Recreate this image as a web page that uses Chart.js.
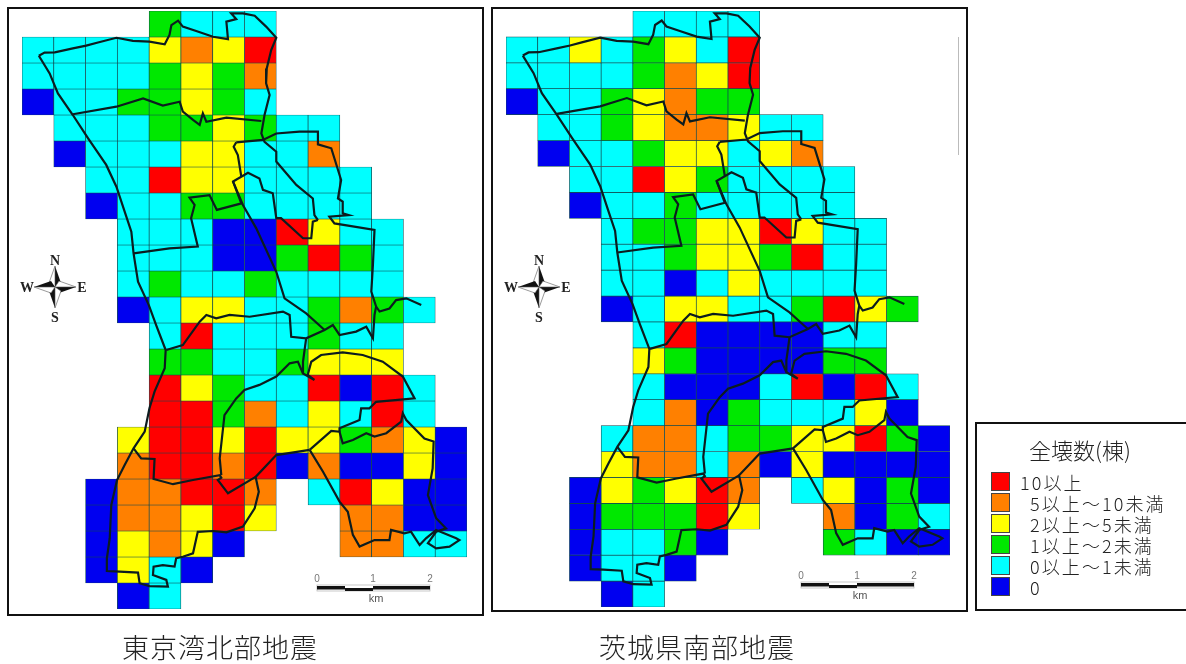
<!DOCTYPE html>
<html lang="ja">
<head>
<meta charset="utf-8">
<title>全壊数(棟)</title>
<script src="https://cdn.jsdelivr.net/npm/chart.js@4/dist/chart.umd.min.js"></script>
<style>
    html, body { margin: 0; padding: 0; background: #fff; }
    body { width: 1186px; height: 664px; position: relative; overflow: hidden; font-family: "Noto Sans CJK JP", sans-serif; font-weight: 300; color: #222; }
    .frame { position: absolute; border: 2px solid #111; box-sizing: border-box; }
    canvas { position: absolute; }
    #overlay { position: absolute; left: 0; top: 0; }
    .title { position: absolute; top: 629px; font-size: 27px; letter-spacing: 1px; white-space: nowrap; line-height: 36px; }
    #legend { position: absolute; left: 975px; top: 422px; width: 230px; height: 189px; border: 2px solid #111; box-sizing: border-box; background: #fff; }
    #legend-title { position: absolute; left: 52px; top: 10px; font-size: 22px; white-space: nowrap; line-height: 30px; }
    .swatch { position: absolute; left: 14px; width: 19px; height: 19px; box-sizing: border-box; border: 1px solid #444; }
    .entry { position: absolute; font-size: 18px; letter-spacing: 2.1px; line-height: 22px; white-space: nowrap; }
    #stray { position: absolute; left: 958px; top: 37px; width: 1px; height: 118px; background: #bbb; }
</style>
</head>
<body>
<div class="frame" style="left:7px;top:7px;width:477px;height:609px"></div>
<div class="frame" style="left:491px;top:7px;width:477px;height:605px"></div>
<div id="stray"></div>
<canvas id="map-tokyo" style="left:22px;top:11px;width:445px;height:598px"></canvas>
<canvas id="map-ibaraki" style="left:506px;top:11px;width:444px;height:596px"></canvas>
<svg id="overlay" width="1186" height="664" xmlns="http://www.w3.org/2000/svg"></svg>
<div class="title" style="left:122px">東京湾北部地震</div>
<div class="title" style="left:599px">茨城県南部地震</div>
<div id="legend"><div id="legend-title">全壊数(棟)</div></div>

<script>
const _ = null;

// damage classes, same order as the legend from the bottom up
const classLabels = ['0', '0以上～1未満', '1以上～2未満', '2以上～5未満', '5以上～10未満', '10以上'];
const classColors = ['#0000f0', '#00ffff', '#00e800', '#ffff00', '#ff8000', '#ff0000'];

// class of each 500m mesh, row by row from the north
const tokyoBayGrid = [
    [_, _, _, _, 2, 1, 1, 1],
    [1, 1, 1, 1, 3, 4, 3, 5],
    [1, 1, 1, 1, 2, 3, 2, 4],
    [0, 1, 1, 2, 2, 3, 2, 1],
    [_, 1, 1, 1, 2, 2, 3, 2, 1, 1],
    [_, 0, 1, 1, 1, 3, 3, 1, 1, 4],
    [_, _, 1, 1, 5, 3, 3, 1, 1, 1, 1],
    [_, _, 0, 1, 1, 2, 2, 1, 1, 1, 1],
    [_, _, _, 1, 1, 1, 0, 0, 5, 3, 1, 1],
    [_, _, _, 1, 1, 1, 0, 0, 2, 5, 2, 1],
    [_, _, _, 1, 2, 1, 1, 2, 1, 1, 1, 1],
    [_, _, _, 0, 1, 3, 3, 1, 1, 2, 4, 2, 1],
    [_, _, _, _, 1, 5, 1, 1, 1, 2, 1, 1],
    [_, _, _, _, 2, 2, 1, 1, 2, 3, 3, 3],
    [_, _, _, _, 5, 3, 2, 1, 1, 5, 0, 5, 1],
    [_, _, _, _, 5, 5, 2, 4, 1, 3, 1, 5, 1],
    [_, _, _, 3, 5, 5, 3, 5, 3, 3, 2, 4, 3, 0],
    [_, _, _, 4, 5, 5, 4, 5, 0, 4, 0, 0, 3, 0],
    [_, _, 0, 4, 4, 5, 5, 4, _, 1, 5, 3, 0, 0],
    [_, _, 0, 4, 4, 3, 5, 3, _, _, 4, 4, 0, 0],
    [_, _, 0, 3, 4, 3, 0, _, _, _, 4, 4, 1, 1],
    [_, _, 0, 3, 1, 0],
    [_, _, _, 0, 1]
];

const ibarakiGrid = [
    [_, _, _, _, 1, 1, 1, 1],
    [1, 1, 3, 1, 2, 3, 1, 5],
    [1, 1, 1, 1, 2, 4, 3, 5],
    [0, 1, 1, 2, 3, 4, 2, 2],
    [_, 1, 1, 2, 3, 4, 4, 3, 1, 1],
    [_, 0, 1, 1, 2, 3, 3, 1, 3, 4],
    [_, _, 1, 1, 5, 3, 2, 1, 1, 1, 1],
    [_, _, 0, 1, 1, 2, 1, 1, 1, 1, 1],
    [_, _, _, 1, 2, 2, 3, 3, 5, 3, 1, 1],
    [_, _, _, 1, 1, 2, 3, 3, 2, 5, 1, 1],
    [_, _, _, 1, 1, 0, 1, 3, 1, 1, 1, 1],
    [_, _, _, 0, 1, 3, 3, 1, 1, 2, 5, 3, 2],
    [_, _, _, _, 1, 5, 0, 0, 0, 0, 1, 1],
    [_, _, _, _, 3, 2, 0, 0, 0, 0, 2, 2],
    [_, _, _, _, 1, 0, 0, 0, 1, 5, 0, 5, 1],
    [_, _, _, _, 1, 4, 0, 2, 1, 1, 1, 3, 0],
    [_, _, _, 1, 4, 4, 1, 2, 2, 3, 3, 5, 2, 0],
    [_, _, _, 3, 4, 4, 1, 4, 0, 3, 0, 0, 0, 0],
    [_, _, 0, 3, 2, 3, 5, 4, _, 1, 3, 0, 2, 0],
    [_, _, 0, 2, 2, 2, 5, 3, _, _, 4, 0, 2, 1],
    [_, _, 0, 1, 1, 2, 0, _, _, _, 2, 1, 0, 0],
    [_, _, 0, 1, 1, 0],
    [_, _, _, 0, 1]
];

// ward boundaries in mesh units (column, row)
const northEastLine = [[.53,1.72],[.71,1.6],[1.03,1.59],[1.6,1.44],[2.02,1.33],[2.39,1.21],[2.97,1.03],[3.49,1.15],[4.01,1.18],[4.49,1.28],[4.64,.92],[4.7,.54],[4.91,.37],[5.06,.6],[5.48,.77],[6.01,.99],[6.48,1.08],[6.43,.41],[6.74,.31],[6.58,.09],[6.95,.09],[7.32,.18],[7.68,.6],[8,1.03],[7.84,1.5],[7.7,2.21],[7.68,2.78],[7.79,3.23],[7.63,4],[7.53,4.71],[7.63,5.03],[8,5.41],[8,5.79],[8.63,6.69],[9.15,7.21],[9.2,7.85],[9.31,8.04]];
const eastLine = [[6.74,5.05],[7.58,4.96],[8,4.71],[8.73,4.64],[9.31,4.64],[9.31,5.13],[9.73,5.28],[10.04,6.5],[9.94,7.21],[10.09,7.33],[10.09,7.78],[10.28,7.85],[9.67,7.91],[9.83,8.17],[11.09,8.42],[11.04,9.77],[10.99,10.79],[11.14,11.37],[11.25,11.56],[11.56,11.44],[11.77,11.12],[12.09,11.05],[12.56,11.31]];
const centralLine = [[11.14,11.37],[11.09,11.69],[11.04,12.59],[10.83,12.14],[10.51,12.33],[9.99,12.46],[9.78,12.08],[9.52,12.27],[8.94,12.59],[8.47,12.53],[8.42,11.69],[8.21,11.56],[7.16,11.76],[6.53,11.69],[6.11,11.82],[5.8,11.69],[5.59,11.95],[5.06,12.85],[4.54,13.04]];
const westCoastLine = [[.53,1.72],[.87,2.4],[1.13,3.17],[1.6,4],[2.08,4.9],[2.65,5.92],[2.97,6.76],[3.23,7.72],[3.44,8.49],[3.51,9.32],[3.65,10.41],[3.99,11.31],[4.22,12.08],[4.52,13.04],[4.49,13.74],[4.17,14.64],[4.01,15.28],[3.86,16.18],[3.51,16.82],[3.23,17.46],[2.99,18.04],[2.81,19],[2.76,20.28],[2.67,21.05],[2.67,21.54],[3.07,21.56],[3.65,21.6],[3.7,22.01],[4.01,22.12],[4.59,22.14],[4.54,21.88],[4.12,21.69],[4.14,21.37],[4.43,21.31],[4.8,21.37],[4.85,21.05],[5.06,20.99],[5.38,20.86],[5.53,20.03],[6.01,20],[6.43,20.05],[6.95,19.83],[7.32,19.13],[7.45,18.49],[7.35,17.92],[8,17.08],[9.05,16.88]];
const southEastLine = [[9.05,16.88],[9.47,17.72],[9.99,18.87],[10.25,19.26],[10.41,20.15],[10.62,20.6],[11.09,20.35],[11.56,20.35],[11.61,19.96],[12.03,20.09],[12.24,20.03],[12.51,20.54],[12.71,20.28],[13.03,19.96],[13.66,20.28],[13.76,20.35],[13.45,20.6],[13.03,20.67],[12.77,20.47],[13.03,20.03],[13.34,19.9],[13.03,19.51],[12.77,18.62],[12.92,17.59],[12.95,16.56],[12.66,16.44],[12.09,15.73],[11.98,15.47],[11.93,15.79],[11.46,16.24],[11.09,16.37],[10.83,16.24],[10.41,16.5],[10.09,16.63],[9.99,16.18],[9.73,16.15],[9.05,16.88]];
const southLine = [[3.51,16.82],[3.75,17.21],[4.17,17.23],[4.14,18],[4.75,18.2],[5.38,18.04],[6.22,17.85],[6.27,17.95],[6.16,18.04],[6.48,18.55],[7.35,17.92]];
const riverLine = [[6.27,17.85],[6.22,17.21],[6.37,15.54],[6.74,14.9],[7,14.58],[7.47,14.38],[8,14.06],[8.42,13.55],[8.68,13.49],[8.84,13.94],[9.2,14.19],[8.99,14],[9.1,13.49],[9.41,13.23],[10.09,13.13],[10.72,13.23],[11.35,13.49],[11.98,14.06],[12.35,14.9],[11.14,15.03],[10.93,15.28],[10.67,15.28],[10.62,15.73],[9.99,16.05],[9.99,16.18]];
const connectLine = [[8.94,12.59],[8.84,13.49],[8.84,13.94]];
const northLine = [[1.6,3.97],[2.97,3.68],[3.81,3.36],[4.43,3.64],[4.96,3.49],[5.06,3.87],[5.38,4.19],[5.59,4.38],[5.69,3.94],[5.8,4.26],[6.43,4.1],[7.53,4.23]];
const stationLine = [[6.74,5.05],[6.66,5.22],[6.79,5.54],[6.9,6.37]];
const midLine = [[3.51,9.32],[4.64,9.13],[5.53,9.06],[5.32,7.97],[5.43,7.46],[5.27,7.18],[5.9,7.08],[6.13,7.65],[6.9,7.4],[6.64,6.56],[7.11,6.22],[7.47,6.44],[7.58,6.88],[7.89,7.01],[8,7.97],[8.15,7.97],[8.84,8.74],[9.1,8.74],[9.15,8.1],[9.31,8.04]];
const diagonalLine = [[6.64,6.56],[6.95,7.46],[7.37,8.36],[8,10.03],[8.26,11.05],[8.94,11.63],[9.52,12.27]];

const boundaryLines = [northEastLine, eastLine, centralLine, westCoastLine, southEastLine, southLine, riverLine, connectLine, northLine, stationLine, midLine, diagonalLine];

const GRID_COLS = 14;
const GRID_ROWS = 23;

function buildDatasets(grid) {
    // one floating-bar dataset for each mesh row
    const rows = grid.map((row, r) => {
        const cells = [];
        const colors = [];
        row.forEach((cls, c) => {
            if (cls === null) return;
            cells.push({ x: c + 0.5, y: [r, r + 1] });
            colors.push(classColors[cls]);
        });
        return {
            type: 'bar',
            data: cells,
            backgroundColor: colors,
            borderColor: '#124a50',
            borderWidth: 0.7,
            borderSkipped: false,
            grouped: false,
            barPercentage: 1,
            categoryPercentage: 1,
            order: 2
        };
    });

    const lines = boundaryLines.map(line => ({
        type: 'scatter',
        data: line.map(p => ({ x: p[0], y: p[1] })),
        showLine: true,
        borderColor: '#0c1c1f',
        borderWidth: 2.2,
        pointRadius: 0,
        tension: 0,
        clip: false,
        order: 1
    }));

    return rows.concat(lines);
}

function drawMap(id, grid) {
    return new Chart(document.getElementById(id), {
        type: 'bar',
        data: { datasets: buildDatasets(grid) },
        options: {
            responsive: false,
            animation: false,
            maintainAspectRatio: false,
            layout: { padding: 0 },
            plugins: { legend: { display: false }, tooltip: { enabled: false } },
            scales: {
                x: { type: 'linear', min: 0, max: GRID_COLS, offset: false, display: false, ticks: { stepSize: 1 } },
                y: { type: 'linear', min: 0, max: GRID_ROWS, reverse: true, display: false, beginAtZero: false }
            }
        }
    });
}

function sizeCanvas(id) {
    const c = document.getElementById(id);
    c.width = parseInt(c.style.width);
    c.height = parseInt(c.style.height);
}

// north arrow and scale bar for one map
function mapFurniture(cx, cy, bx, by) {
    const arm = 21, w = 6;
    let star = '';
    [[0, -1], [1, 0], [0, 1], [-1, 0]].forEach(d => {
        const tipX = cx + d[0] * arm, tipY = cy + d[1] * arm;
        const sideX = -d[1] * w, sideY = d[0] * w;
        star += `<polygon points="${cx},${cy} ${tipX},${tipY} ${cx + d[0] * 4 + sideX},${cy + d[1] * 4 + sideY}" fill="#111"/>`;
        star += `<polygon points="${cx},${cy} ${tipX},${tipY} ${cx + d[0] * 4 - sideX},${cy + d[1] * 4 - sideY}" fill="#fff" stroke="#555" stroke-width="0.6"/>`;
    });
    const serif = 'font-family="Liberation Serif" font-weight="bold" font-size="14" fill="#222" text-anchor="middle"';
    const sans = 'font-family="Liberation Sans" font-size="10" fill="#777" text-anchor="middle"';
    return star +
        `<text x="${cx}" y="${cy - 22}" ${serif}>N</text>` +
        `<text x="${cx}" y="${cy + 35}" ${serif}>S</text>` +
        `<text x="${cx - 28}" y="${cy + 5}" ${serif}>W</text>` +
        `<text x="${cx + 27}" y="${cy + 5}" ${serif}>E</text>` +
        `<rect x="${bx}" y="${by - 1}" width="113" height="6" fill="#fff" stroke="#bbb" stroke-width="0.8"/>` +
        `<rect x="${bx}" y="${by}" width="28" height="3.5" fill="#111"/>` +
        `<rect x="${bx + 28}" y="${by + 2}" width="28" height="3" fill="#111"/>` +
        `<rect x="${bx + 56}" y="${by}" width="57" height="3.5" fill="#111"/>` +
        `<text x="${bx}" y="${by - 4}" ${sans}>0</text>` +
        `<text x="${bx + 56}" y="${by - 4}" ${sans}>1</text>` +
        `<text x="${bx + 113}" y="${by - 4}" ${sans}>2</text>` +
        `<text x="${bx + 59}" y="${by + 16}" font-family="Liberation Sans" font-size="11" fill="#555" text-anchor="middle">km</text>`;
}

document.getElementById('overlay').innerHTML = mapFurniture(55, 287, 317, 586) + mapFurniture(539, 287, 801, 583);

// legend entries, top to bottom
const legend = document.getElementById('legend');
const legendIndent = [43, 53, 53, 53, 53, 53];
classLabels.slice().reverse().forEach((label, i) => {
    const swatch = document.createElement('div');
    swatch.className = 'swatch';
    swatch.style.top = (48 + i * 21) + 'px';
    swatch.style.background = classColors[classColors.length - 1 - i];
    legend.appendChild(swatch);

    const entry = document.createElement('div');
    entry.className = 'entry';
    entry.style.left = legendIndent[i] + 'px';
    entry.style.top = (47 + i * 21) + 'px';
    entry.textContent = label;
    legend.appendChild(entry);
});

sizeCanvas('map-tokyo');
sizeCanvas('map-ibaraki');
drawMap('map-tokyo', tokyoBayGrid);
drawMap('map-ibaraki', ibarakiGrid);
</script>
</body>
</html>
